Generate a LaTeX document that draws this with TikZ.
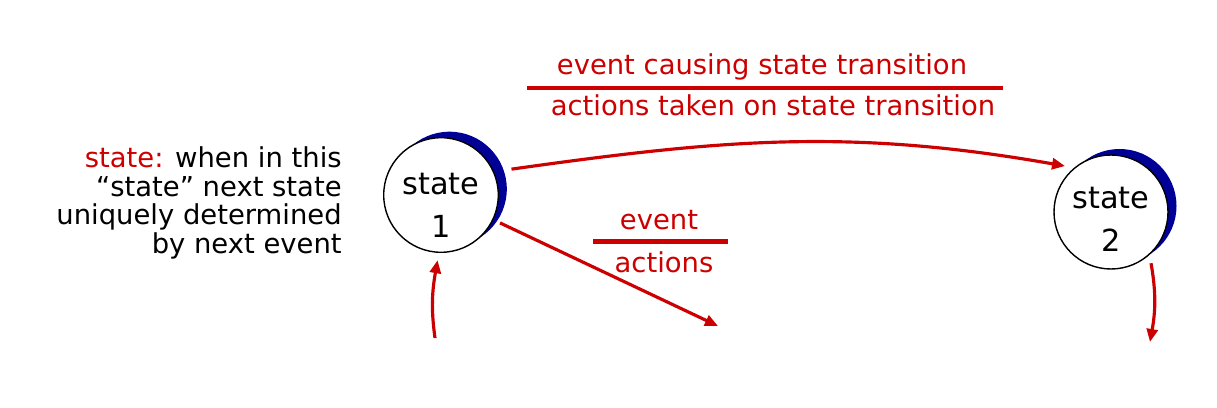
\documentclass[tikz,border=0pt]{standalone}
\usepackage{fontspec}
\setmainfont{DejaVu Sans}
\usetikzlibrary{arrows.meta,shadows}
\definecolor{fsmred}{RGB}{204,0,0}
\definecolor{crescent}{RGB}{0,0,150}

\begin{document}
\begin{tikzpicture}[
  stnode/.style={circle,draw,line width=0.8pt,fill=white,minimum size=2.28cm,inner sep=0pt,outer sep=0.16cm,
    font=\fontsize{17.3}{24.5}\selectfont,align=center,
    drop shadow={shadow xshift=0.17cm,shadow yshift=0.12cm,fill=crescent,opacity=1}},
  lbl/.style={font=\fontsize{15.6}{16.3}\selectfont,inner sep=0pt},
  trans/.style={line width=1.8pt,fsmred,-{Triangle[length=0.26cm,width=0.22cm]}},
  bar/.style={fsmred,line width=0.08cm}]
\useasboundingbox (0,0) rectangle (24.34,8.14);
% the two states
\node[stnode] (s1) at (8.82,4.24) {\rule{0pt}{0.84cm}state\\1};
\node[stnode] (s2) at (22.22,3.90) {\rule{0pt}{0.72cm}state\\2};
% definition on the left
\node[lbl,align=right,anchor=east] (def) at (6.84,4.08)
  {\textcolor{fsmred}{state:} when in this\\“state” next state\\uniquely determined\\by next event};
% transition label: event over actions
\node[lbl,fsmred,anchor=base] (ev1) at (15.24,6.64) {event causing state transition};
\node[lbl,fsmred,anchor=base] (act1) at (15.46,5.82) {actions taken on state transition};
\draw[bar] (10.54,6.38) -- (20.06,6.38);
\node[lbl,fsmred,anchor=base] (ev2) at (13.18,3.54) {event};
\node[lbl,fsmred,anchor=base] (act2) at (13.28,2.68) {actions};
\draw[bar,line width=0.1cm] (11.86,3.30) -- (14.56,3.30);
% loose ends
\coordinate (in1) at (8.70,1.38);
\coordinate (out1) at (14.36,1.62);
\coordinate (out2) at (23.00,1.30);
% transitions
\draw[trans,shorten <=0.2cm] (s1.22) to[out=8,in=170] (s2.135);
\draw[trans] (s1) -- (out1);
\draw[trans] (in1) to[out=98,in=-100] (s1.-93);
\draw[trans] (s2.-52) to[out=-80,in=80] (out2);
\end{tikzpicture}
\end{document}
